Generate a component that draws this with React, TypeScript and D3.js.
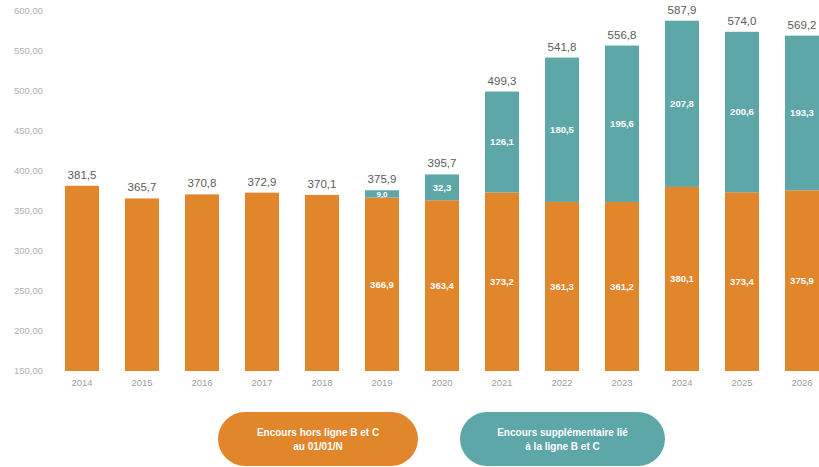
import React from "react";
import * as d3 from "d3";

const years = ["2014","2015","2016","2017","2018","2019","2020","2021","2022","2023","2024","2025","2026"];
const horsLigne = [381.5, 365.7, 370.8, 372.9, 370.1, 366.9, 363.4, 373.2, 361.3, 361.2, 380.1, 373.4, 375.9];
const supplementaire = [0, 0, 0, 0, 0, 9.0, 32.3, 126.1, 180.5, 195.6, 207.8, 200.6, 193.3];
const yTicks = [150, 200, 250, 300, 350, 400, 450, 500, 550, 600];
const legendLabels = [
  ["Encours hors ligne B et C", "au 01/01/N"],
  ["Encours supplémentaire lié", "à la ligne B et C"],
];

const ORANGE = "#E2862C";
const TEAL = "#5EA7A9";
const W = 819, H = 467;
const FONT = "'Liberation Sans', Arial, sans-serif";

const fmt = (v: number) => v.toFixed(1).replace(".", ",");

export default function App() {
  const x = d3.scaleBand<string>().domain(years).range([52, 832]).paddingInner(0.433).paddingOuter(0.2165);
  const y = d3.scaleLinear().domain([150, 600]).range([371, 11]);
  const bw = x.bandwidth();
  const stack = d3.stack<number>().keys(["a", "b"]).value((i, k) => (k === "a" ? horsLigne[i] : supplementaire[i]));
  const series = stack(years.map((_, i) => i));
  const colors = [ORANGE, TEAL];

  return (
    <svg width={W} height={H} style={{ position: "absolute", left: 0, top: 0, background: "#fff" }} fontFamily={FONT}>
      {yTicks.map((t) => (
        <text key={t} x={43} y={y(t)} dy="0.35em" textAnchor="end" fontSize={9.5} fill="#b0b0b0">
          {t.toFixed(2).replace(".", ",")}
        </text>
      ))}
      {series.map((s, si) =>
        s.map((d, i) => {
          const lo = Math.max(d[0], 150);
          const hi = d[1];
          if (hi - d[0] <= 0) return null;
          return (
            <rect key={si + "-" + i} x={x(years[i])!} y={y(hi)} width={bw} height={y(lo) - y(hi)} fill={colors[si]} />
          );
        })
      )}
      {years.map((yr, i) => {
        const cx = x(yr)! + bw / 2;
        const total = horsLigne[i] + supplementaire[i];
        const hasTeal = supplementaire[i] > 0;
        return (
          <g key={yr}>
            <text x={cx} y={y(total) - 7} textAnchor="middle" fontSize={11.5} fill="#5a5a5a">{fmt(total)}</text>
            {hasTeal && (
              <>
                <text x={cx} y={(y(150) + y(horsLigne[i])) / 2} dy="0.35em" textAnchor="middle" fontSize={9.5} fontWeight="bold" fill="#fff">
                  {fmt(horsLigne[i])}
                </text>
                <text x={cx} y={(y(horsLigne[i]) + y(total)) / 2} dy="0.35em" textAnchor="middle" fontSize={supplementaire[i] < 15 ? 8 : 9.5} fontWeight="bold" fill="#fff">
                  {fmt(supplementaire[i])}
                </text>
              </>
            )}
            <text x={cx} y={383} dy="0.35em" textAnchor="middle" fontSize={9.5} fill="#a0a0a0">{yr}</text>
          </g>
        );
      })}
      {legendLabels.map((lines, li) => {
        const lx = li === 0 ? 218 : 460;
        const lw = li === 0 ? 200 : 205;
        return (
          <g key={li}>
            <rect x={lx} y={412} width={lw} height={54} rx={27} fill={colors[li]} />
            {lines.map((ln, k) => (
              <text key={k} x={lx + lw / 2} y={432 + k * 14} dy="0.35em" textAnchor="middle" fontSize={10} fontWeight="bold" fill="#fff">
                {ln}
              </text>
            ))}
          </g>
        );
      })}
    </svg>
  );
}
